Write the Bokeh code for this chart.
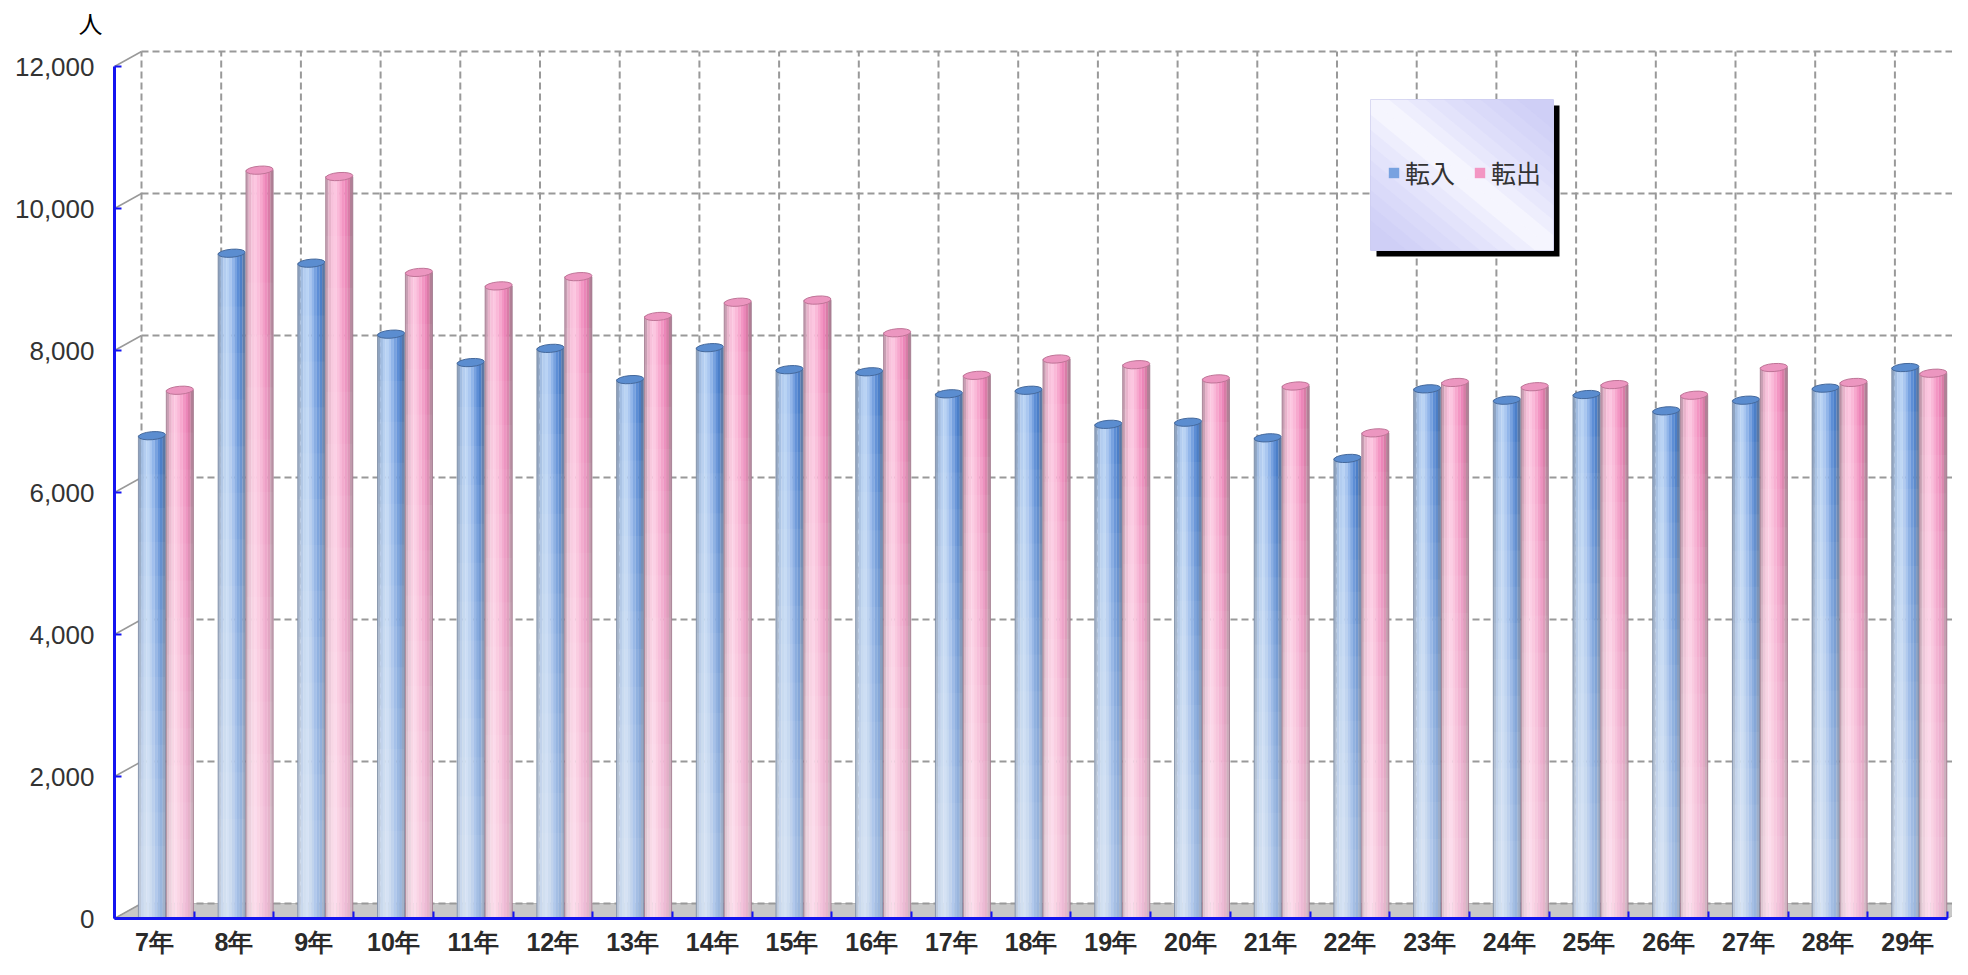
import numpy as np
from bokeh.plotting import figure
from bokeh.models import Range1d, FixedTicker, NumeralTickFormatter, Legend, LegendItem
from bokeh.embed import file_html
from bokeh.resources import INLINE

# ---------------- data ----------------
categories = ["7年", "8年", "9年", "10年", "11年", "12年", "13年", "14年", "15年", "16年",
              "17年", "18年", "19年", "20年", "21年", "22年", "23年", "24年", "25年", "26年",
              "27年", "28年", "29年"]
tennyu = [6800, 9370, 9230, 8230, 7830, 8030, 7590, 8040, 7730, 7700, 7390, 7440,
          6960, 6990, 6770, 6480, 7460, 7300, 7380, 7150, 7300, 7470, 7760]
tenshutsu = [7440, 10540, 10450, 9100, 8910, 9040, 8480, 8680, 8710, 8250, 7650, 7880,
             7800, 7600, 7500, 6840, 7550, 7490, 7520, 7370, 7760, 7550, 7680]
series_names = ["転入", "転出"]
y_ticks = [0, 2000, 4000, 6000, 8000, 10000, 12000]
unit_label = "人"

# ---------------- geometry / style ----------------
FIG_W, FIG_H = 1952, 959
FRAME_L, FRAME_T = 114, 40
Y_ZERO_PX = 918                      # figure px of value 0
Y_TOP_PX = 66                        # figure px of value 12000
FRAME_W, FRAME_H = FIG_W - FRAME_L, Y_ZERO_PX - FRAME_T
CAT_PX = 79.7
PX_PER_UNIT = (Y_ZERO_PX - Y_TOP_PX) / 12000.0
n = len(categories)
X0, X1 = -0.5, -0.5 + FRAME_W / CAT_PX
Y1 = FRAME_H / PX_PER_UNIT
DX = 27.0 / CAT_PX
DY = 15.0 / PX_PER_UNIT


def px2x(px):
    return (px - FRAME_L) / CAT_PX - 0.5


def py2y(py):
    return (Y_ZERO_PX - py) / PX_PER_UNIT


AXIS_BLUE = "#1414f0"
GRID_GRAY = "#999999"

p = figure(width=FIG_W, height=FIG_H, output_backend="svg", toolbar_location=None,
           x_range=Range1d(X0, X1), y_range=Range1d(0, Y1),
           min_border_left=FRAME_L, min_border_right=0, min_border_top=FRAME_T,
           min_border_bottom=FIG_H - Y_ZERO_PX)
p.outline_line_color = None
p.xgrid.visible = False
p.ygrid.visible = False
p.background_fill_color = "white"
p.border_fill_color = "white"

# unit label "人" as the title, shifted left over the axis labels
p.title.text = unit_label
p.title.align = "left"
p.title.offset = -36
p.title.standoff = 0
p.title.vertical_align = "middle"
p.title.text_font = "Noto Sans CJK JP"
p.title.text_font_size = "24px"
p.title.text_font_style = "normal"
p.title.text_color = "black"

idx = np.arange(n)

# floor
p.patch([X0, n - 0.5, n - 0.5 + DX, X0 + DX], [0, 0, DY, DY],
        fill_color="#c8c8c8", line_color="#b4b4b4", line_width=1)

# back wall grid
bx = [k - 0.5 + DX for k in range(n + 1)]
p.multi_line(xs=[[b, b] for b in bx], ys=[[DY, y_ticks[-1] + DY] for _ in bx],
             line_color=GRID_GRAY, line_width=2, line_dash="7 4")
p.multi_line(xs=[[X0 + DX, X1] for _ in y_ticks], ys=[[t + DY, t + DY] for t in y_ticks],
             line_color=GRID_GRAY, line_width=2, line_dash="7 4")
p.multi_line(xs=[[X0, X0 + DX] for _ in y_ticks], ys=[[t, t + DY] for t in y_ticks],
             line_color=GRID_GRAY, line_width=1.5)

# cylinders
BW = 0.34
blue_strips = ["#8ea3c0", "#a2bde2", "#b3cdf0", "#b9d3f4", "#aac7f0", "#92b6ea",
               "#78a2e0", "#5d8ed6", "#4c7fc8", "#5877a6"]
pink_strips = ["#c89fb3", "#e8b3cb", "#f8c1db", "#fcc6e0", "#fab9d8", "#f7a8ce",
               "#f396c3", "#ec86b9", "#d97ca7", "#b27f96"]
specs = [
    (tennyu, -0.03, blue_strips, "#5b8dd0", "#45699c", "#7d8ca4"),
    (tenshutsu, 0.32, pink_strips, "#ec96c0", "#bf7497", "#a07a8e"),
]
legend_renderers = []
NS = len(blue_strips)
for vals, off, strips, top_c, top_line, outline in specs:
    vals = np.array(vals, dtype=float)
    xc = idx + off
    sw = BW / NS
    leg_r = None
    for j, c in enumerate(strips):
        r = p.vbar(x=xc - BW / 2 + sw * (j + 0.5), top=vals, bottom=0, width=sw * 1.06,
                   fill_color=c, line_color=None)
        if j == 6:
            leg_r = r
    legend_renderers.append(leg_r)
    for k in range(12):
        p.vbar(x=xc, top=vals * (0.92 - 0.07 * k), bottom=0, width=BW,
               fill_color="white", fill_alpha=0.05, line_color=None)
    p.vbar(x=xc, top=vals, bottom=0, width=BW, fill_color=None,
           line_color=outline, line_width=1, line_alpha=0.8)
    p.ellipse(x=xc, y=vals, width=BW, height=8, height_units="screen", angle=0.08,
              fill_color=top_c, line_color=top_line, line_width=1)

# legend box (shadow + gradient-ish background)
LB_L, LB_R, LB_T, LB_B = px2x(1370), px2x(1553), py2y(99), py2y(250)
SH_X, SH_Y = 6.0 / CAT_PX, 6.0 / PX_PER_UNIT
p.quad(left=[LB_L + SH_X], right=[LB_R + SH_X], top=[LB_T - SH_Y], bottom=[LB_B - SH_Y],
       fill_color="black", line_color=None)
p.quad(left=[LB_L], right=[LB_R], top=[LB_T], bottom=[LB_B],
       fill_color="#fcfcff", line_color="#dcdcf2", line_width=1)
W_, H_ = LB_R - LB_L, LB_T - LB_B
for f in [1.0, 0.9, 0.8, 0.7, 0.6, 0.5, 0.4, 0.3, 0.2]:
    p.patch([LB_L, LB_L + f * W_, LB_L], [LB_B, LB_B, LB_B + f * H_],
            fill_color="#b4b4f6", fill_alpha=0.09, line_color=None)
    p.patch([LB_R, LB_R - f * W_, LB_R], [LB_T, LB_T, LB_T - f * H_],
            fill_color="#b4b4f6", fill_alpha=0.09, line_color=None)

legend = Legend(items=[LegendItem(label=series_names[0], renderers=[legend_renderers[0]]),
                       LegendItem(label=series_names[1], renderers=[legend_renderers[1]])],
                orientation="horizontal", location=(1387 - FRAME_L, 728),
                glyph_width=13, glyph_height=13, label_standoff=5, spacing=18,
                padding=0, margin=0, background_fill_alpha=0, border_line_color=None,
                label_text_font="Noto Sans CJK JP", label_text_font_size="25px",
                label_text_color="#333333")
p.add_layout(legend)

# axes
xa = p.xaxis[0]
xa.ticker = FixedTicker(ticks=list(range(n)), minor_ticks=[k - 0.5 for k in range(n + 1)])
xa.major_label_overrides = {i: c for i, c in enumerate(categories)}
xa.bounds = (-0.5, n - 0.5)
xa.axis_line_color = AXIS_BLUE
xa.axis_line_width = 3
xa.major_tick_line_color = None
xa.major_tick_in = 0
xa.major_tick_out = 0
xa.minor_tick_line_color = AXIS_BLUE
xa.minor_tick_line_width = 2
xa.minor_tick_in = 7
xa.minor_tick_out = 0
xa.major_label_standoff = 9
xa.major_label_text_font = "Liberation Sans"
xa.major_label_text_font_style = "bold"
xa.major_label_text_font_size = "25px"
xa.major_label_text_color = "#2a2a2a"

ya = p.yaxis[0]
ya.ticker = FixedTicker(ticks=y_ticks)
ya.formatter = NumeralTickFormatter(format="0,0")
ya.bounds = (0, y_ticks[-1])
ya.axis_line_color = AXIS_BLUE
ya.axis_line_width = 3
ya.major_tick_line_color = AXIS_BLUE
ya.major_tick_line_width = 2
ya.major_tick_in = 7
ya.major_tick_out = 0
ya.minor_tick_line_color = None
ya.major_label_standoff = 20
ya.major_label_text_font = "Liberation Sans"
ya.major_label_text_font_size = "26px"
ya.major_label_text_color = "#333333"

open("out.html", "w").write(file_html(p, INLINE))
